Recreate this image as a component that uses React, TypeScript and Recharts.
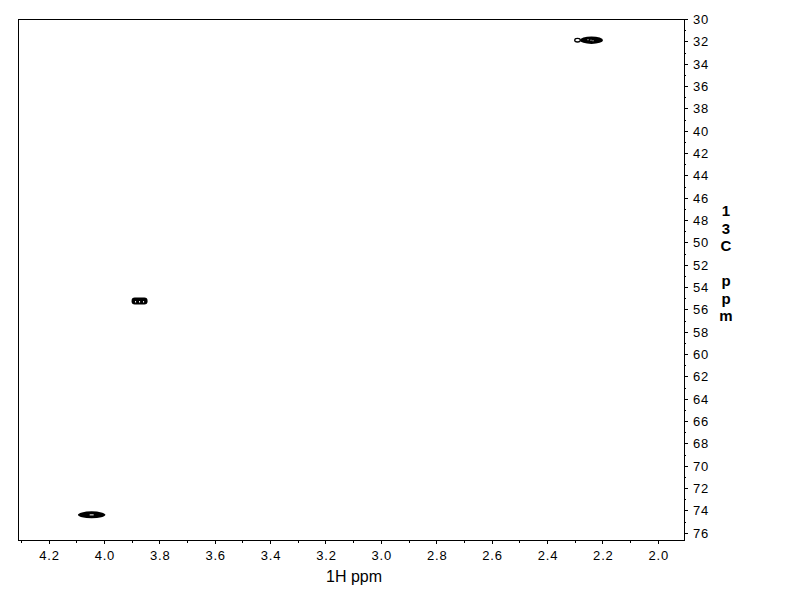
import React from "react";
import { ScatterChart, Scatter, XAxis, YAxis, ReferenceArea } from "recharts";

// cross peaks (1H shift, 13C shift)
const peakH = [2.241, 3.873, 4.046];
const peakC = [31.85, 55.2, 74.35];

// axis ticks: labels on every other one
const hTicks = [2.0, 2.1, 2.2, 2.3, 2.4, 2.5, 2.6, 2.7, 2.8, 2.9, 3.0, 3.1, 3.2, 3.3, 3.4, 3.5, 3.6, 3.7, 3.8, 3.9, 4.0, 4.1, 4.2, 4.3];
const cTicks = [30, 31, 32, 33, 34, 35, 36, 37, 38, 39, 40, 41, 42, 43, 44, 45, 46, 47, 48, 49, 50, 51, 52, 53, 54, 55, 56, 57, 58, 59, 60, 61, 62, 63, 64, 65, 66, 67, 68, 69, 70, 71, 72, 73, 74, 75, 76];

const H_DOMAIN: [number, number] = [1.907, 4.312];
const C_DOMAIN: [number, number] = [29.95, 76.6];

const FONT = "'Liberation Sans', Arial, sans-serif";

const data = peakH.map((h, i) => ({ h, c: peakC[i], idx: i }));

const HTick = (props: any) => {
    const { x, y, payload } = props;
    const v = payload.value;
    const major = Math.round(v * 10) % 2 === 0;
    return (
        <g>
            <line x1={x} x2={x} y1={y} y2={y + (major ? 4 : 3)} stroke="#000" shapeRendering="crispEdges" />
            {major && (
                <text x={x + 0.5} y={y + 20} textAnchor="middle" fontSize={13} letterSpacing={0.8} fontFamily={FONT} fill="#000">
                    {v.toFixed(1)}
                </text>
            )}
        </g>
    );
};

const CTick = (props: any) => {
    const { x, y, payload } = props;
    const v = payload.value;
    const major = v % 2 === 0;
    return (
        <g>
            <line x1={x} x2={x + (major ? 4 : 2)} y1={y} y2={y} stroke="#000" shapeRendering="crispEdges" />
            {major && (
                <text x={x + 9} y={y + 4.5} textAnchor="start" fontSize={13} letterSpacing={0.8} fontFamily={FONT} fill="#000">
                    {v}
                </text>
            )}
        </g>
    );
};

const CLabel = (props: any) => {
    const { viewBox } = props;
    const x = viewBox.x + 42;
    const lines = ["1", "3", "C", "", "p", "p", "m"];
    return (
        <text x={x} y={216} textAnchor="middle" fontSize={15} fontWeight="bold" fontFamily={FONT} fill="#000">
            {lines.map((l, i) => (
                <tspan key={i} x={x} y={216 + i * 17.5}>{l}</tspan>
            ))}
        </text>
    );
};

const HLabel = (props: any) => {
    const { viewBox } = props;
    return (
        <text x={viewBox.x + viewBox.width / 2 + 3} y={582} textAnchor="middle" fontSize={16} fontFamily={FONT} fill="#000">
            1H ppm
        </text>
    );
};

// contour blobs, drawn in pixels around the peak centre
const PeakShape = (props: any) => {
    const { cx, cy, payload } = props;
    if (cx == null || cy == null) return null;
    if (payload.idx === 0) {
        return (
            <g>
                <ellipse cx={cx} cy={cy} rx={11.5} ry={3.7} fill="#000" />
                <ellipse cx={cx - 14} cy={cy} rx={2.8} ry={1.8} fill="#fff" stroke="#000" strokeWidth={1.3} />
                <rect x={cx - 4} y={cy - 1} width={1} height={1} fill="#fff" />
                <rect x={cx - 1} y={cy - 0.5} width={1} height={1} fill="#fff" />
                <rect x={cx + 1} y={cy} width={1} height={1} fill="#fff" />
            </g>
        );
    }
    if (payload.idx === 1) {
        return (
            <g>
                <rect x={cx - 8} y={cy - 3.5} width={16} height={7} rx={3.2} fill="#000" />
                <rect x={cx - 4.5} y={cy} width={1} height={1.5} fill="#fff" />
                <rect x={cx - 0.5} y={cy} width={1} height={1.5} fill="#fff" />
                <rect x={cx + 3.5} y={cy} width={1} height={1.5} fill="#fff" />
            </g>
        );
    }
    return (
        <g>
            <ellipse cx={cx} cy={cy} rx={13.7} ry={3.5} fill="#000" />
            <rect x={cx - 2} y={cy - 0.5} width={4} height={1} fill="#fff" />
        </g>
    );
};

export default function App() {
    return (
        <div style={{ position: "absolute", left: 0, top: 0, width: 792, height: 612, background: "#fff", fontFamily: FONT }}>
            <ScatterChart width={792} height={612} margin={{ top: 19, right: 48, bottom: 22, left: 18 }}>
                <ReferenceArea
                    x1={H_DOMAIN[0]}
                    x2={H_DOMAIN[1]}
                    y1={C_DOMAIN[0]}
                    y2={C_DOMAIN[1]}
                    fill="none"
                    stroke="#000"
                    strokeOpacity={1}
                    shapeRendering="crispEdges"
                />
                <XAxis
                    type="number"
                    dataKey="h"
                    domain={H_DOMAIN}
                    reversed
                    allowDataOverflow
                    ticks={hTicks}
                    interval={0}
                    tick={<HTick />}
                    tickLine={false}
                    tickSize={0}
                    tickMargin={0}
                    axisLine={{ stroke: "#000", shapeRendering: "crispEdges" }}
                    height={50}
                    label={{ content: <HLabel /> }}
                />
                <YAxis
                    type="number"
                    dataKey="c"
                    orientation="right"
                    domain={C_DOMAIN}
                    reversed
                    allowDataOverflow
                    ticks={cTicks}
                    interval={0}
                    tick={<CTick />}
                    tickLine={false}
                    tickSize={0}
                    tickMargin={0}
                    axisLine={{ stroke: "#000", shapeRendering: "crispEdges" }}
                    width={60}
                    label={{ content: <CLabel /> }}
                />
                <Scatter data={data} fill="#000" isAnimationActive={false} shape={(p: any) => <PeakShape {...p} />} />
            </ScatterChart>
        </div>
    );
}
